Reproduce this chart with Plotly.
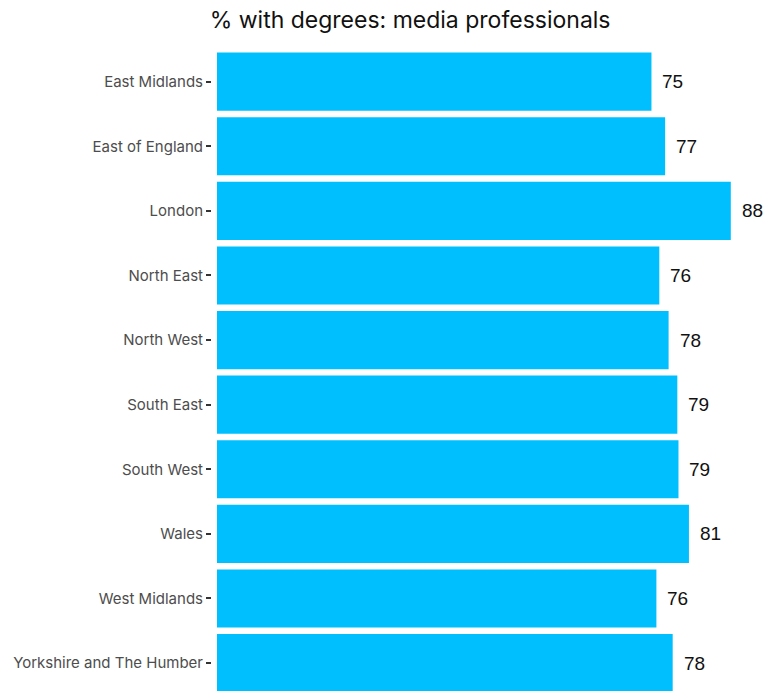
import plotly.graph_objects as go

regions = ["East Midlands", "East of England", "London", "North East", "North West",
           "South East", "South West", "Wales", "West Midlands", "Yorkshire and The Humber"]
pct_degrees = [74.75, 77.1, 88.4, 76.1, 77.7, 79.2, 79.4, 81.2, 75.6, 78.4]
labels = [str(round(v)) for v in pct_degrees]

fig = go.Figure()
fig.add_trace(go.Bar(
    x=pct_degrees, y=regions, orientation="h",
    marker=dict(color="#00BFFF", line=dict(width=0)),
    width=0.9, hoverinfo="skip",
))
for r, v, t in zip(regions, pct_degrees, labels):
    fig.add_annotation(x=v, y=r, text=t, showarrow=False, xanchor="left", xshift=9,
                       font=dict(family="Liberation Sans, Arial", size=19, color="#111111"))

fig.update_layout(
    width=768, height=691,
    margin=dict(l=212, r=0, t=45, b=0),
    plot_bgcolor="white", paper_bgcolor="white",
    showlegend=False,
    title=dict(text="% with degrees: media professionals", xref="container", x=0.534,
               xanchor="center", y=0.971, yanchor="middle",
               font=dict(family="Inter", size=23, color="#111111")),
    xaxis=dict(range=[-0.86, 94.8], visible=False, showgrid=False, zeroline=False),
    yaxis=dict(type="category", categoryorder="array", categoryarray=regions,
               range=[9.432, -0.568], showgrid=False, zeroline=False, showline=False,
               ticks="outside", ticklen=5, tickwidth=2, tickcolor="#333333",
               ticklabelstandoff=0,
               tickfont=dict(family="Inter", size=15, color="#4d4d4d")),
)
fig.write_html("out.html")
